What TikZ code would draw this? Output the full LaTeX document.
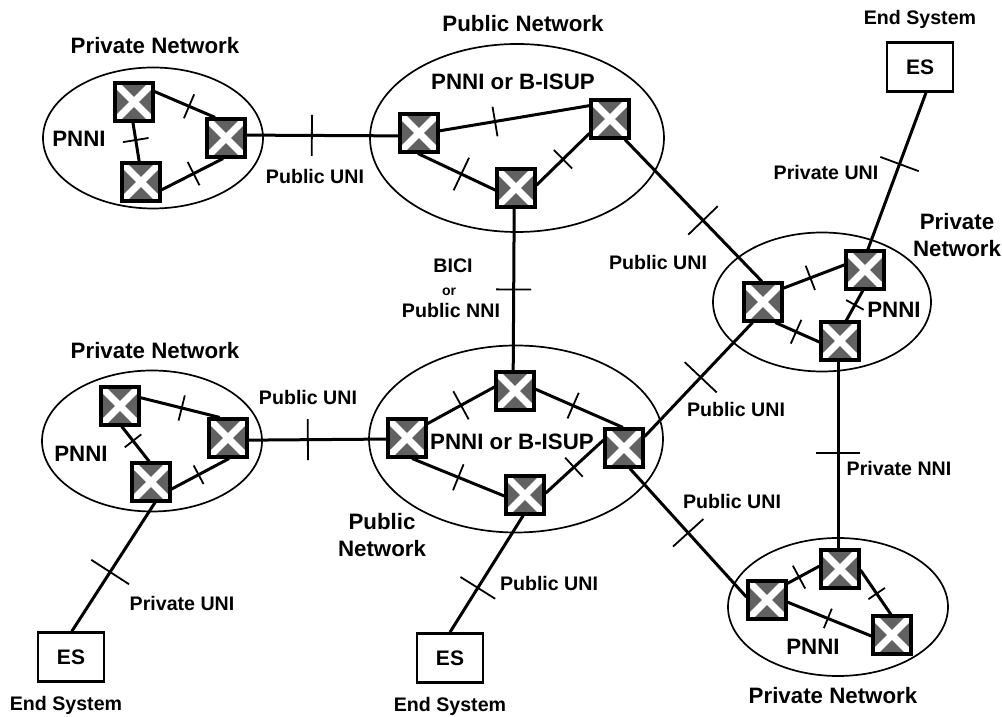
\documentclass[tikz,border=0pt]{standalone}
\usepackage{fontspec}
\setmainfont{Liberation Sans}
\usetikzlibrary{shapes.geometric}
\tikzstyle{netcloud} = [ellipse, draw=black, line width=1.7pt, inner sep=0pt]
\tikzstyle{switchbox} = [rectangle, draw=black, line width=3.6pt, fill=black!62, minimum size=37.5pt, inner sep=0pt, path picture={
    \draw [black!20, line width=4pt] (path picture bounding box.south west) rectangle (path picture bounding box.north east);
    \draw [white, line width=7pt] (path picture bounding box.south west) -- (path picture bounding box.north east);
    \draw [white, line width=7pt] (path picture bounding box.north west) -- (path picture bounding box.south east);}]
\tikzstyle{endsys} = [rectangle, draw=black, line width=2.6pt, minimum width=66pt, minimum height=49pt, font=\fontsize{21}{24}\selectfont\bfseries]
\tikzstyle{biglabel} = [font=\fontsize{22.3}{27}\selectfont\bfseries]
\tikzstyle{smalllabel} = [font=\fontsize{19.6}{23}\selectfont\bfseries]
\tikzstyle{orlabel} = [font=\fontsize{14}{16}\selectfont\bfseries]
\tikzstyle{link} = [line width=3pt, black]
\tikzstyle{shortmark} = [sloped, fill=black, inner sep=0pt, outer sep=0pt, minimum width=1.8pt, minimum height=26pt]
\tikzstyle{longmark} = [sloped, fill=black, inner sep=0pt, outer sep=0pt, minimum width=1.8pt, minimum height=41pt]
\begin{document}
\begin{tikzpicture}[x=1pt, y=1pt, node distance=48pt, align=center]
    \useasboundingbox (0,0) rectangle (1002,717);
    % networks
    \node (netnw) [netcloud, minimum width=220pt, minimum height=141pt] at (153,579) {};
    \node (nettop) [netcloud, minimum width=294pt, minimum height=188pt] at (517,579) {};
    \node (netright) [netcloud, minimum width=218pt, minimum height=139pt] at (822,415) {};
    \node (netsw) [netcloud, minimum width=220pt, minimum height=141pt] at (152,276) {};
    \node (netbot) [netcloud, minimum width=294pt, minimum height=187pt] at (516,278) {};
    \node (netse) [netcloud, minimum width=220pt, minimum height=138pt] at (838,110) {};

    % switches
    \node (nwa) [switchbox] at (134,615) {};
    \node (nwb) [switchbox] at (226,579) {};
    \node (nwc) [switchbox] at (141,535) {};
    \node (topa) [switchbox] at (419,584) {};
    \node (topb) [switchbox] at (516,529) {};
    \node (topc) [switchbox] at (610,598) {};
    \node (righta) [switchbox] at (763,415) {};
    \node (rightb) [switchbox] at (865,447) {};
    \node (rightc) [switchbox] at (840,376) {};
    \node (swa) [switchbox] at (120,311) {};
    \node (swb) [switchbox] at (228,279) {};
    \node (swc) [switchbox] at (151,235) {};
    \node (bota) [switchbox] at (407,279) {};
    \node (botb) [switchbox] at (515,326) {};
    \node (botc) [switchbox] at (624,269) {};
    \node (botd) [switchbox] at (525,222) {};
    \node (sea) [switchbox] at (767,117) {};
    \node (seb) [switchbox] at (840,148) {};
    \node (sec) [switchbox] at (892,82) {};

    % end systems
    \node (estop) [endsys] at (920,650) {ES};
    \node (esleft) [endsys] at (71,60) {ES};
    \node (esmid) [endsys] at (450,59) {ES};
    \node (endtop) [smalllabel, above of=estop] {End System};
    \node (endleft) [smalllabel, below of=esleft, xshift=-5pt] {End System};
    \node (endmid) [smalllabel, below of=esmid] {End System};

    % links inside the networks
    \draw [link] (nwa.27) -- node[shortmark, pos=.57] (m1) {} (nwb.118);
    \draw [link] (nwa.-93) -- node[shortmark, pos=.45] (m2) {} (nwc.95);
    \draw [link] (nwb.-98) -- node[shortmark, pos=.48] (m3) {} (nwc.-21);
    \draw [link] (topa.6) -- node[shortmark, pos=.37, minimum height=30pt] (m4) {} (topc.147);
    \draw [link] (topa.-93) -- node[shortmark, pos=.56, minimum height=36pt] (m5) {} (topb.186);
    \draw [link] (topb.8) -- node[shortmark, pos=.5] (m6) {} (topc.215);
    \draw [link] (righta.34) -- node[shortmark, pos=.44] (m7) {} (rightb.166);
    \draw [link] (righta.-59) -- node[shortmark, pos=.47] (m8) {} (rightc.183);
    \draw [link] (rightb.-96) -- node[shortmark, pos=.48, minimum height=20pt] (m9) {} (rightc.73);
    \draw [link] (swa.22) -- node[shortmark, pos=.52] (m10) {} (swb.112);
    \draw [link] (swa.-85) -- node[shortmark, pos=.41, minimum height=21pt] (m11) {} (swc.95);
    \draw [link] (swb.-87) -- node[shortmark, pos=.53, minimum height=21pt] (m12) {} (swc.-19);
    \draw [link] (bota.35) -- node[shortmark, pos=.5, minimum height=32pt] (m13) {} (botb.169);
    \draw [link] (bota.-76) -- node[shortmark, pos=.5, minimum height=28pt] (m14) {} (botd.183);
    \draw [link] (botb.5) -- node[shortmark, pos=.43, minimum height=28pt] (m15) {} (botc.93);
    \draw [link] (botd.5) -- node[shortmark, pos=.49] (m16) {} (botc.159);
    \draw [link] (sea.39) -- node[shortmark, pos=.36] (m17) {} (seb.172);
    \draw [link] (sea.-6) -- node[shortmark, pos=.48, minimum height=21pt] (m18) {} (sec.183);
    \draw [link] (seb.-3) -- node[shortmark, pos=.53, minimum height=20pt] (m19) {} (sec.93);

    % links between the networks
    \draw [link] (nwb.8) -- node[longmark, pos=.43] (m20) {} (topa.188);
    \draw [link] (swb.-6) -- node[longmark, pos=.43] (m21) {} (bota.183);
    \draw [link] (topb.-95.5) -- node[longmark, pos=.5, minimum height=35pt] (m22) {} (botb.95.5);
    \draw [link] (topc.-54) -- node[longmark, pos=.57] (m23) {} (righta.93);
    \draw [link] (righta.243) -- node[longmark, pos=.48, minimum height=44pt] (m24) {} (botc.29);
    \draw [link] (botc.-74) -- node[longmark, pos=.5] (m25) {} (sea.172);
    \draw [link] (rightc.-95) -- node[longmark, pos=.49, minimum height=44pt] (m26) {} (seb.95);
    \draw [link] (estop.-77) -- node[longmark, pos=.455] (m27) {} (rightb.82);
    \draw [link] (swc.-79) -- node[longmark, pos=.54, minimum height=45pt] (m28) {} (esleft.88);
    \draw [link] (botd.-95) -- node[longmark, pos=.62] (m29) {} (esmid.north);

    % labels
    \node (lnw) [biglabel] at (155,671) {Private Network};
    \node (ltop) [biglabel] at (523,693) {Public Network};
    \node (lright) [biglabel] at (957,481.5) {Private \\ Network};
    \node (lsw) [biglabel] at (155,366) {Private Network};
    \node (lbot) [biglabel] at (382,181.5) {Public \\ Network};
    \node (lse) [biglabel] at (833,21) {Private Network};
    \node (ptop) [biglabel] at (513,635) {PNNI or B-ISUP};
    \node (pbot) [biglabel] at (512,275) {PNNI or B-ISUP};
    \node (pnw) [biglabel] at (79,578) {PNNI};
    \node (pright) [biglabel] at (894,407) {PNNI};
    \node (psw) [biglabel] at (81,263) {PNNI};
    \node (pse) [biglabel] at (813,70) {PNNI};
    \node (unia) [smalllabel] at (315,540) {Public UNI};
    \node (unib) [smalllabel] at (658,454) {Public UNI};
    \node (unic) [smalllabel] at (308,319) {Public UNI};
    \node (unid) [smalllabel] at (736,307) {Public UNI};
    \node (unie) [smalllabel] at (732,215) {Public UNI};
    \node (unif) [smalllabel] at (549,134) {Public UNI};
    \node (privtop) [smalllabel] at (826,544) {Private UNI};
    \node (privsw) [smalllabel] at (182,114) {Private UNI};
    \node (privnni) [smalllabel] at (899,248) {Private NNI};
    \node (bici) [smalllabel] at (453,451) {BICI};
    \node (orl) [orlabel] at (449,425) {or};
    \node (pubnni) [smalllabel] at (451,406) {Public NNI};
\end{tikzpicture}
\end{document}
